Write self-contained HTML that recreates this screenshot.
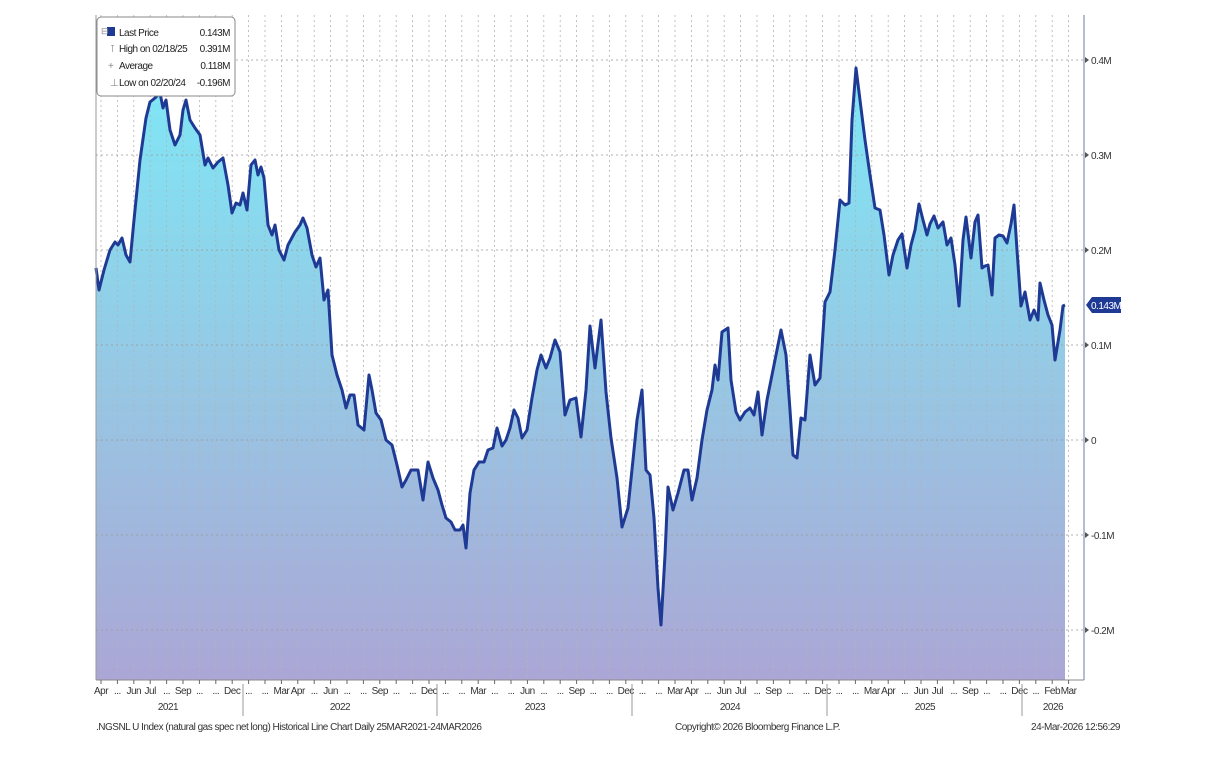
<!DOCTYPE html>
<html><head><meta charset="utf-8"><style>
body{margin:0;background:#fff;width:1217px;height:760px;overflow:hidden}
svg text{font-family:"Liberation Sans",sans-serif;letter-spacing:-0.5px}
</style></head><body>
<svg id="s" width="1217" height="760" xmlns="http://www.w3.org/2000/svg">
<defs><linearGradient id="g" x1="0" y1="0" x2="0" y2="1">
<stop offset="0" stop-color="#7ee8f6"/><stop offset="0.5" stop-color="#96c8e4"/><stop offset="1" stop-color="#aba6d6"/></linearGradient></defs>
<g id="grid"></g>
<path id="area" fill="url(#g)"/>
<g id="grid2"></g>
<polyline id="line" fill="none" stroke="#1e3a94" stroke-width="3" stroke-linejoin="round"/>
<line x1="96" y1="15" x2="96" y2="680" stroke="#999"/>
<line x1="1084" y1="15" x2="1084" y2="680" stroke="#6a7ca0"/>
<line x1="96" y1="680" x2="1084" y2="680" stroke="#888"/>
<g id="ax" font-size="10" fill="#333"></g>
<g>
<rect x="97" y="17" width="138" height="79" rx="4" fill="#fff" stroke="#888"/>
<rect x="107" y="27" width="8" height="9" fill="#1e3a94"/>
<text x="101" y="34" font-size="9" fill="#888">⊟</text>
<g font-size="10" fill="#222">
<text x="119" y="36">Last Price</text><text x="230" y="36" text-anchor="end">0.143M</text>
<text x="110" y="52" fill="#888">⊺</text><text x="119" y="52">High on 02/18/25</text><text x="230" y="52" text-anchor="end">0.391M</text>
<text x="108" y="69" fill="#888">+</text><text x="119" y="69">Average</text><text x="230" y="69" text-anchor="end">0.118M</text>
<text x="110" y="86" fill="#888">⊥</text><text x="119" y="86">Low on 02/20/24</text><text x="230" y="86" text-anchor="end">-0.196M</text>
</g></g>
<path d="M1086,305 L1092,297 L1121,297 L1121,313 L1092,313 Z" fill="#1e3a94"/>
<text x="1091" y="309" font-size="10" fill="#fff">0.143M</text>
<g font-size="10" fill="#333">
<text x="96" y="730">.NGSNL U Index (natural gas spec net long) Historical Line Chart Daily 25MAR2021-24MAR2026</text>
<text x="675" y="730">Copyright© 2026 Bloomberg Finance L.P.</text>
<text x="1120" y="730" text-anchor="end">24-Mar-2026 12:56:29</text>
</g>
</svg>
<script>
var pts="96,268 99,290 104,270 110,250 115,242 118,245 122,238 126,255 130,262 134,220 140,160 146,118 150,102 155,98 160,93 163,108 166,100 170,130 175,145 180,135 183,110 186,100 190,120 195,128 200,135 205,165 208,158 213,168 218,162 223,158 228,185 232,213 236,203 240,205 243,193 247,210 251,165 255,160 258,175 261,167 264,178 268,225 272,235 275,225 279,250 284,260 288,245 295,232 300,225 303,218 307,228 312,255 316,267 320,258 324,300 328,290 332,355 337,375 342,390 346,408 350,395 354,395 358,425 364,430 369,375 372,390 376,413 381,420 386,440 392,445 397,465 402,487 406,480 411,470 418,470 423,500 428,462 433,478 438,490 442,505 446,518 451,522 455,530 460,530 463,525 466,548 470,493 474,470 479,462 484,462 488,450 493,448 497,428 502,446 506,440 510,428 514,410 518,418 522,438 527,430 532,398 537,370 541,355 546,368 550,358 555,340 560,352 565,415 570,400 576,398 581,437 586,390 590,326 595,368 601,320 606,392 611,438 617,478 622,527 628,508 633,460 637,420 642,390 646,470 650,475 654,518 658,588 661,625 665,555 668,487 673,510 678,493 684,470 688,470 692,500 697,478 702,440 707,410 712,390 715,365 718,380 722,332 728,328 731,380 736,412 740,420 745,412 750,408 754,415 758,392 762,435 767,400 772,375 777,350 781,330 786,355 790,410 793,455 797,458 801,418 805,420 810,355 815,385 820,378 825,302 830,292 835,250 840,200 845,205 849,203 852,120 856,68 860,100 865,140 870,175 875,208 880,210 884,235 889,275 893,255 898,240 902,234 907,268 911,245 915,230 919,204 923,220 927,235 930,224 934,216 938,228 943,222 947,245 951,238 955,265 959,306 963,240 966,217 971,258 975,222 978,215 982,268 985,266 988,265 992,295 995,238 999,235 1003,236 1007,243 1011,224 1014,205 1017,250 1021,306 1025,292 1030,320 1034,310 1038,320 1040,283 1044,300 1048,315 1052,325 1055,360 1060,330 1063,306 1065,305";
document.getElementById('line').setAttribute('points',pts);
document.getElementById('area').setAttribute('d','M'+pts.split(' ').join(' L')+' L1065,680 L96,680 Z');
var NS='http://www.w3.org/2000/svg';
function el(p,t,a,txt){var e=document.createElementNS(NS,t);for(var k in a)e.setAttribute(k,a[k]);if(txt!=null)e.textContent=txt;p.appendChild(e);return e;}
var g=document.getElementById('grid'),g2=document.getElementById('grid2'),ax=document.getElementById('ax');
var lab=["Apr","...","Jun","Jul","...","Sep","...","...","Dec",
"...","...","Mar","Apr","...","Jun","...","...","Sep","...","...","Dec",
"...","...","Mar","...","...","Jun","...","...","Sep","...","...","Dec",
"...","...","Mar","Apr","...","Jun","Jul","...","Sep","...","...","Dec",
"...","...","Mar","Apr","...","Jun","Jul","...","Sep","...","...","Dec",
"...","Feb","Mar"];
for(var i=0;i<60;i++){var x=101+16.4*i;
 el(g2,'line',{x1:x,y1:15,x2:x,y2:680,stroke:'#b4b4b4','stroke-dasharray':'2,3','stroke-width':0.8});
 el(ax,'line',{x1:x,y1:680,x2:x,y2:684,stroke:'#666'});
 el(ax,'text',{x:x,y:694,'text-anchor':'middle'},lab[i]);}
var yl=[[60,'0.4M'],[155,'0.3M'],[250,'0.2M'],[345,'0.1M'],[440,'0'],[535,'-0.1M'],[630,'-0.2M']];
yl.forEach(function(v){el(g2,'line',{x1:96,y1:v[0],x2:1084,y2:v[0],stroke:'#999','stroke-dasharray':'2,3','stroke-width':0.8});
 el(ax,'path',{d:'M1085,'+(v[0]-3)+' L1089,'+v[0]+' L1085,'+(v[0]+3)+'Z',fill:'#555'});
 el(ax,'text',{x:1091,y:v[0]+4},v[1]);});
[243,437,632,827,1022].forEach(function(x){el(ax,'line',{x1:x,y1:684,x2:x,y2:716,stroke:'#999'});});
[[168,'2021'],[340,'2022'],[535,'2023'],[730,'2024'],[925,'2025'],[1053,'2026']].forEach(function(v){el(ax,'text',{x:v[0],y:710,'text-anchor':'middle'},v[1]);});
</script>
</body></html>
